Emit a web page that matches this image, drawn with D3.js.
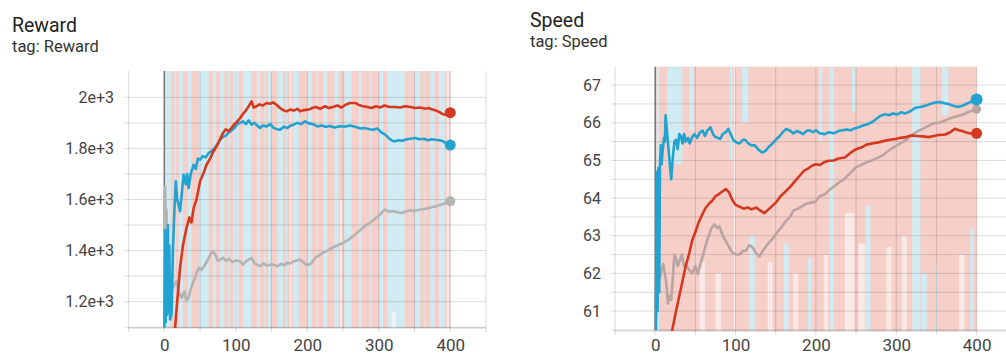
<!DOCTYPE html>
<html>
<head>
<meta charset="utf-8">
<script src="https://cdn.jsdelivr.net/npm/d3@7"></script>
<style>
  html, body { margin: 0; padding: 0; background: #fff; }
  svg { display: block; font-family: Roboto, "Noto Sans", sans-serif; }
</style>
</head>
<body>
<svg id="chart" width="1006" height="358"></svg>
<script>
// ---- Reward run (step, smoothed value) ----
const rewardRed = [[15,1097],[18,1200],[22,1332],[26,1420],[31,1488],[35,1530],[38,1510],[41,1567],[45,1600],[50,1671],[55,1705],[59,1736],[64,1760],[68,1785],[73,1808],[77,1830],[82,1860],[86,1875],[90,1868],[94,1880],[98,1895],[102,1905],[106,1919],[110,1935],[114,1948],[118,1965],[122,1984],[125,1960],[129,1965],[133,1972],[138,1968],[143,1978],[148,1975],[152,1980],[157,1971],[161,1960],[166,1950],[171,1945],[176,1952],[181,1948],[186,1955],[190,1945],[195,1950],[202,1952],[207,1958],[212,1962],[218,1955],[225,1965],[230,1958],[236,1962],[242,1968],[248,1960],[254,1972],[260,1978],[267,1978],[272,1970],[278,1965],[284,1962],[290,1958],[296,1965],[302,1960],[308,1968],[315,1962],[323,1962],[330,1960],[337,1965],[344,1962],[351,1958],[358,1960],[365,1955],[370,1958],[375,1952],[380,1948],[385,1942],[389,1935],[393,1932],[397,1936],[400,1940]];
const rewardBlue = [[0,1100],[1,1480],[2,1120],[3,1470],[4,1150],[5,1500],[6,1160],[7,1420],[8,1130],[10,1149],[12,1400],[14,1550],[16,1671],[18,1600],[20,1580],[22,1554],[25,1640],[27,1697],[30,1660],[32,1700],[34,1645],[37,1700],[41,1736],[44,1720],[47,1760],[50,1756],[54,1770],[58,1765],[62,1782],[66,1790],[70,1800],[74,1815],[78,1834],[82,1845],[86,1850],[90,1862],[94,1870],[98,1880],[102,1895],[106,1900],[110,1906],[114,1895],[118,1910],[122,1893],[126,1900],[130,1890],[134,1880],[138,1890],[143,1886],[148,1895],[153,1880],[158,1875],[162,1873],[167,1885],[172,1880],[177,1890],[181,1893],[186,1900],[191,1895],[197,1906],[202,1898],[208,1895],[214,1886],[220,1890],[226,1885],[232,1888],[238,1882],[245,1887],[253,1886],[260,1890],[267,1885],[274,1878],[280,1880],[286,1876],[292,1873],[298,1878],[304,1862],[309,1854],[314,1840],[319,1830],[323,1828],[328,1832],[333,1830],[338,1835],[344,1838],[351,1841],[357,1836],[363,1838],[369,1832],[374,1836],[379,1834],[385,1832],[390,1828],[395,1818],[400,1813]];
const rewardGray = [[0,1480],[1,1650],[2,1500],[3,1560],[4,1300],[6,1200],[9,1240],[13,1260],[17,1281],[20,1240],[24,1215],[28,1240],[31,1205],[34,1215],[37,1250],[41,1281],[45,1310],[48,1332],[52,1325],[57,1345],[62,1370],[66,1392],[68,1397],[72,1380],[75,1360],[78,1364],[82,1372],[86,1360],[90,1368],[95,1355],[100,1362],[106,1358],[110,1345],[115,1360],[122,1371],[126,1350],[130,1345],[134,1339],[139,1350],[144,1340],[148,1345],[153,1345],[158,1338],[163,1348],[168,1342],[171,1352],[176,1350],[181,1358],[186,1362],[190,1364],[194,1355],[198,1345],[202,1345],[206,1352],[211,1371],[216,1380],[222,1392],[228,1400],[234,1410],[240,1418],[244,1423],[250,1430],[256,1440],[262,1452],[267,1462],[273,1478],[278,1490],[284,1502],[290,1514],[296,1528],[302,1542],[306,1555],[309,1560],[314,1552],[320,1555],[326,1550],[332,1547],[338,1553],[344,1558],[350,1555],[356,1560],[362,1562],[368,1566],[374,1570],[379,1573],[385,1578],[390,1582],[395,1588],[400,1593]];

// Raw (unsmoothed) reward values swing across the whole range; drawn as bands
// [fromStep, toStep, lowValue, highValue]
const rewardRawSpan = [0, 400];
const rewardBlueBands = [[1,9,1097,2103],[14,16,1097,2103],[20,26,1097,2103],[33,38,1097,2103],[48,62,1097,2103],[68,72,1097,2103],[78,84,1097,2103],[89,91,1097,2103],[96,104,1097,2103],[110,122,1097,2103],[130,134,1097,2103],[140,142,1097,2103],[145,150,1097,2103],[158,166,1097,2103],[170,172,1097,2103],[180,188,1097,2103],[200,206,1097,2103],[213,215,1097,2103],[222,228,1097,2103],[238,244,1097,2103],[252,262,1097,2103],[272,276,1097,2103],[288,290,1097,2103],[300,306,1097,2103],[312,336,1097,2103],[342,344,1097,2103],[350,358,1097,2103],[364,366,1097,2103],[372,378,1097,2103],[384,392,1097,2103]];
const rewardGapBands = [[99,101,1097,2103],[176,178,1097,2103],[246,249,1097,1600],[318,324,1097,1160],[395,398,1097,2103]];

// ---- Speed run (step, smoothed value) ----
const speedBlue = [[1,60.5],[2,64.7],[3,61.0],[4,64.8],[5,61.5],[6,64.9],[7,65.4],[8,64.9],[9,65.2],[11,65.6],[12,65.5],[13,66.2],[15,65.7],[17,65.2],[19,64.7],[20,64.5],[22,65.1],[24,65.5],[26,65.55],[28,65.3],[30,65.7],[32,65.65],[34,65.45],[36,65.7],[38,65.5],[41,65.6],[43,65.45],[46,65.62],[49,65.7],[52,65.6],[56,65.75],[59,65.79],[62,65.65],[65,65.8],[69,65.88],[72,65.7],[75,65.62],[78,65.6],[81,65.57],[84,65.7],[88,65.75],[91,65.84],[94,65.7],[97,65.55],[101,65.48],[105,65.45],[109,65.55],[112,65.55],[116,65.45],[120,65.4],[124,65.4],[128,65.3],[133,65.21],[137,65.25],[141,65.35],[146,65.45],[151,65.57],[155,65.65],[159,65.75],[163,65.84],[167,65.8],[172,65.72],[176,65.78],[180,65.75],[184,65.7],[188,65.78],[192,65.8],[196,65.75],[200,65.8],[205,65.72],[211,65.7],[216,65.75],[222,65.72],[228,65.78],[233,65.8],[238,65.82],[243,65.8],[248,65.85],[253,65.88],[258,65.92],[265,65.97],[270,66.02],[275,66.1],[280,66.18],[286,66.23],[291,66.2],[296,66.25],[301,66.22],[306,66.28],[311,66.25],[317,66.3],[324,66.4],[330,66.42],[336,66.45],[342,66.5],[348,66.54],[354,66.55],[360,66.52],[365,66.5],[371,66.45],[377,66.42],[382,66.45],[387,66.5],[392,66.55],[398,66.6],[400,66.62]];
const speedRed = [[21,60.47],[25,60.9],[30,61.4],[34,61.8],[38,62.2],[42,62.5],[46,62.87],[50,63.1],[54,63.35],[59,63.58],[63,63.75],[67,63.85],[71,63.93],[75,64.05],[79,64.1],[84,64.18],[88,64.24],[92,64.15],[96,63.95],[100,63.82],[105,63.77],[110,63.72],[115,63.75],[120,63.7],[126,63.75],[130,63.68],[136,63.6],[141,63.7],[146,63.8],[151,63.9],[156,64.05],[161,64.15],[168,64.3],[174,64.45],[180,64.6],[185,64.72],[190,64.78],[195,64.86],[200,64.9],[205,64.88],[210,64.95],[216,64.99],[222,65.0],[228,65.05],[236,65.08],[243,65.2],[250,65.3],[257,65.35],[263,65.42],[270,65.45],[278,65.48],[285,65.52],[292,65.55],[299,65.57],[305,65.6],[312,65.62],[319,65.66],[326,65.65],[333,65.64],[340,65.62],[347,65.65],[354,65.68],[361,65.69],[367,65.75],[373,65.84],[378,65.8],[382,65.78],[386,65.75],[391,65.72],[396,65.7],[400,65.72]];
const speedGray = [[0,60.47],[2,61.5],[4,62.15],[6,61.9],[8,62.1],[10,62.25],[12,62.0],[14,61.7],[16,61.2],[18,61.4],[20,61.3],[22,61.9],[24,62.5],[26,62.4],[28,62.2],[30,62.3],[33,62.5],[36,62.2],[38,62.25],[42,62.1],[46,62.0],[50,62.2],[53,61.98],[57,62.3],[61,62.6],[65,62.9],[70,63.2],[74,63.3],[77,63.2],[80,63.25],[84,63.0],[88,62.85],[92,62.7],[96,62.55],[101,62.5],[105,62.5],[109,62.6],[113,62.6],[117,62.75],[121,62.7],[125,62.55],[130,62.45],[134,62.6],[139,62.75],[143,62.85],[147,62.95],[152,63.1],[158,63.25],[163,63.4],[168,63.5],[172,63.67],[178,63.72],[184,63.8],[188,63.85],[194,63.88],[199,63.9],[205,64.05],[211,64.1],[216,64.2],[222,64.3],[228,64.4],[235,64.5],[242,64.65],[249,64.8],[256,64.88],[263,64.95],[270,65.0],[278,65.08],[284,65.15],[290,65.25],[297,65.35],[303,65.43],[309,65.5],[315,65.6],[321,65.7],[328,65.79],[334,65.85],[340,65.92],[346,65.98],[353,66.0],[359,66.05],[365,66.1],[371,66.15],[377,66.18],[383,66.22],[389,66.28],[394,66.32],[400,66.36]];

const speedRawSpan = [0, 400];
const speedBlueBands = [[2,5,60.47,67.49],[15,34,64.9,67.49],[42,48,65.8,67.49],[93,96,65.0,67.49],[108,116,66.0,67.49],[117,124,60.47,63.0],[160,166,60.47,62.8],[190,195,60.47,62.4],[204,208,65.5,67.49],[217,222,60.47,67.49],[245,249,66.3,67.49],[262,268,60.47,63.8],[320,330,60.47,67.49],[332,338,60.47,62.0],[349,351,60.47,62.2],[357,365,66.2,67.49],[392,396,60.47,63.2]];
const speedGapBands = [[55,62,60.47,62.3],[75,82,60.47,62.0],[98,100,60.47,67.49],[140,146,60.47,62.3],[172,178,60.47,62.0],[210,215,60.47,62.5],[236,248,60.47,63.6],[253,261,60.47,62.8],[288,294,60.47,62.7],[307,313,60.47,63.0],[378,385,60.47,62.5]];

// ---- Axis ticks ----
const stepTicks = [0, 100, 200, 300, 400];
const stepGrid = [-50, 0, 50, 100, 150, 200, 250, 300, 350, 400, 450];
const rewardTicks = [1200, 1400, 1600, 1800, 2000];
const rewardGrid = [1100, 1200, 1300, 1400, 1500, 1600, 1700, 1800, 1900, 2000];
const speedTicks = [61, 62, 63, 64, 65, 66, 67];
const speedGrid = [60.5, 61, 61.5, 62, 62.5, 63, 63.5, 64, 64.5, 65, 65.5, 66, 66.5, 67];

const COLORS = { red: "#d4391f", blue: "#22a2d0", pink: "#f6cfc9", lightBlue: "#cdedf6", gap: "#fcf5f4" };

const svg = d3.select("#chart");

function panel(opt) {
  const g = svg.append("g");
  const x = d3.scaleLinear().domain([-50, 450]).range(opt.xRange);
  const y = d3.scaleLinear().domain(opt.yDomain).range(opt.yRange);
  const [top, bottom] = [opt.yRange[1], opt.yRange[0]];

  // titles
  g.append("text").attr("x", opt.titleX).attr("y", opt.titleY)
    .attr("font-size", 19.5).attr("fill", "#222").text(opt.title);
  g.append("text").attr("x", opt.titleX).attr("y", opt.tagY)
    .attr("font-size", 16.5).attr("fill", "#333").text("tag: " + opt.title);

  // raw-value bands
  const bands = g.append("g");
  bands.append("rect")
    .attr("x", x(opt.rawSpan[0])).attr("width", x(opt.rawSpan[1]) - x(opt.rawSpan[0]))
    .attr("y", top).attr("height", bottom - top).attr("fill", COLORS.pink);
  const bandRect = (sel, data, fill, op) => sel.selectAll(null).data(data).enter().append("rect")
    .attr("x", d => x(d[0])).attr("width", d => x(d[1]) - x(d[0]))
    .attr("y", d => y(d[3])).attr("height", d => y(d[2]) - y(d[3]))
    .attr("fill", fill).attr("opacity", op);
  bandRect(bands, opt.blueBands, COLORS.lightBlue, 0.9);
  bandRect(bands, opt.gapBands, COLORS.gap, 0.7);

  // grid
  const grid = g.append("g");
  grid.selectAll(null).data(opt.yGrid).enter().append("line")
    .attr("x1", opt.xRange[0] - 4).attr("x2", opt.xRange[1])
    .attr("y1", d => y(d)).attr("y2", d => y(d))
    .attr("stroke", "#000").attr("stroke-opacity", 0.14);
  grid.selectAll(null).data(stepGrid).enter().append("line")
    .attr("x1", d => x(d)).attr("x2", d => x(d))
    .attr("y1", top).attr("y2", bottom + 4)
    .attr("stroke", "#000").attr("stroke-opacity", 0.14);
  grid.append("line").attr("x1", opt.xRange[0]).attr("x2", opt.xRange[1])
    .attr("y1", bottom).attr("y2", bottom).attr("stroke", "#000").attr("stroke-opacity", 0.2);
  grid.append("line").attr("x1", x(0)).attr("x2", x(0))
    .attr("y1", top).attr("y2", bottom).attr("stroke", "#777").attr("stroke-width", 1.5);

  // axes
  const xAxis = g.append("g").attr("transform", `translate(0,${bottom})`)
    .call(d3.axisBottom(x).tickValues(stepTicks).tickSize(0).tickPadding(opt.xPad));
  xAxis.select(".domain").remove();
  xAxis.selectAll("text").attr("font-size", 17).attr("fill", "#444")
    .attr("font-family", "Roboto, sans-serif");

  const yAxis = g.append("g").attr("transform", `translate(${opt.yLabelX},0)`)
    .call(d3.axisLeft(y).tickValues(opt.yTicks).tickSize(0).tickPadding(0).tickFormat(opt.fmt));
  yAxis.select(".domain").remove();
  yAxis.selectAll("text").attr("font-size", 16).attr("fill", "#444")
    .attr("font-family", "Roboto, sans-serif");

  // smoothed series
  const clipId = "clip-" + opt.title;
  svg.append("clipPath").attr("id", clipId).append("rect")
    .attr("x", opt.xRange[0]).attr("y", top).attr("width", opt.xRange[1] - opt.xRange[0]).attr("height", bottom - top);
  const lines = g.append("g").attr("clip-path", `url(#${clipId})`);
  const line = d3.line().x(d => x(d[0])).y(d => y(d[1]));
  opt.series.forEach(s => {
    lines.append("path").datum(s.data).attr("d", line)
      .attr("fill", "none").attr("stroke", s.color).attr("stroke-width", 2.6)
      .attr("stroke-linejoin", "round").attr("stroke-opacity", s.opacity || 1);
  });
  opt.series.forEach(s => {
    const last = s.data[s.data.length - 1];
    lines.append("circle").attr("cx", x(last[0])).attr("cy", y(last[1]))
      .attr("r", s.r).attr("fill", s.color).attr("fill-opacity", s.opacity || 1);
  });
}

panel({
  title: "Reward", titleX: 12, titleY: 32, tagY: 52,
  xRange: [128.6, 486], yDomain: [1097, 2103], yRange: [328, 71],
  yLabelX: 114, yTicks: rewardTicks, yGrid: rewardGrid, xPad: 11,
  fmt: d => d3.format(".2~")(d / 1000) + "e+3",
  rawSpan: rewardRawSpan, blueBands: rewardBlueBands, gapBands: rewardGapBands,
  series: [
    { data: rewardGray, color: "#b3b3b3", r: 5 },
    { data: rewardBlue, color: COLORS.blue, r: 5.5 },
    { data: rewardRed, color: COLORS.red, r: 5.5 }
  ]
});

panel({
  title: "Speed", titleX: 530, titleY: 27, tagY: 47,
  xRange: [615, 1016.8], yDomain: [60.47, 67.49], yRange: [331, 66.7],
  yLabelX: 601, yTicks: speedTicks, yGrid: speedGrid, xPad: 8,
  fmt: d3.format("d"),
  rawSpan: speedRawSpan, blueBands: speedBlueBands, gapBands: speedGapBands,
  series: [
    { data: speedGray, color: "#b9a4a0", r: 4.5 },
    { data: speedRed, color: COLORS.red, r: 5.5 },
    { data: speedBlue, color: COLORS.blue, r: 6 }
  ]
});
</script>
</body>
</html>
